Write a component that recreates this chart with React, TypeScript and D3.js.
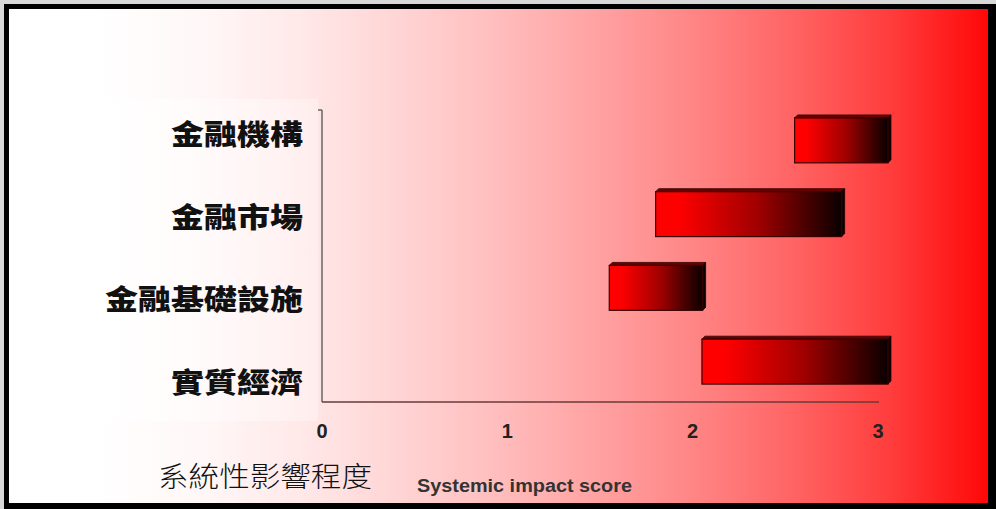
import React from "react";
import * as d3 from "d3";

// Sectors and their systemic-impact score ranges
const categories = ["金融機構", "金融市場", "金融基礎設施", "實質經濟"];
const lowScores = [2.55, 1.8, 1.55, 2.05];
const highScores = [3.07, 2.82, 2.07, 3.07];
const tickValues = [0, 1, 2, 3];
const titleZh = "系統性影響程度";
const titleEn = "Systemic impact score";

const W = 996;
const H = 509;

const bgStops: [number, string][] = [
  [0.0, "#ffffff"],
  [0.09, "#ffffff"],
  [0.2, "#fff7f7"],
  [0.3, "#ffe8e8"],
  [0.4, "#ffd4d4"],
  [0.5, "#ffbdbd"],
  [0.6, "#ffa2a2"],
  [0.7, "#ff8585"],
  [0.8, "#ff6464"],
  [0.9, "#ff3d3d"],
  [1.0, "#ff0808"],
];

export default function App() {
  const x = d3.scaleLinear().domain([0, 3]).range([322, 878]);
  const yBar = d3
    .scaleBand<string>()
    .domain(categories)
    .range([102, 397])
    .paddingInner(0.35)
    .paddingOuter(0.175);
  const yLabel = d3.scaleBand<string>().domain(categories).range([93.5, 424.5]);

  const depth = 3;

  return (
    <svg
      width={W}
      height={H}
      style={{ position: "absolute", left: 0, top: 0, display: "block" }}
    >
      <defs>
        <linearGradient id="bg" x1="9" x2="988" y1="0" y2="0" gradientUnits="userSpaceOnUse">
          {bgStops.map(([o, c]) => (
            <stop key={o} offset={o} stopColor={c} />
          ))}
        </linearGradient>
        <linearGradient id="barFill" x1="0" x2="1" y1="0" y2="0">
          <stop offset="0" stopColor="#ff0000" />
          <stop offset="0.12" stopColor="#ff0000" />
          <stop offset="0.55" stopColor="#a00000" />
          <stop offset="1" stopColor="#0a0000" />
        </linearGradient>
        <linearGradient id="panel" x1="0" x2="1" y1="0" y2="0">
          <stop offset="0" stopColor="#ffffff" stopOpacity="0.6" />
          <stop offset="1" stopColor="#ffffff" stopOpacity="0.3" />
        </linearGradient>
      </defs>

      {/* frame */}
      <rect x={0} y={0} width={W} height={H} fill="#d8d8d8" />
      <rect x={4} y={4} width={W - 4} height={H - 4} fill="#000" />
      <rect x={9} y={9} width={979} height={494} fill="url(#bg)" />

      {/* label panel */}
      <rect x={42} y={99} width={276} height={322} fill="url(#panel)" />

      {/* axes */}
      <line x1={x(0)} x2={x(0)} y1={110} y2={402} stroke="#666" strokeWidth={1.5} />
      <line x1={x(0) - 4} x2={x(0)} y1={110} y2={110} stroke="#666" strokeWidth={1.5} />
      <line x1={x(0)} x2={x(3) + 1} y1={402} y2={402} stroke="#6a3a3a" strokeWidth={1.5} />

      {/* bars */}
      {categories.map((c, i) => {
        const x0 = x(lowScores[i]);
        const x1 = x(highScores[i]);
        const y0 = yBar(c) as number;
        const h = yBar.bandwidth();
        const y1 = y0 + h;
        return (
          <g key={c}>
            <polygon
              points={`${x0},${y0 + depth} ${x0 + depth},${y0} ${x1},${y0} ${x1 - depth},${y0 + depth}`}
              fill="#6a0000"
              stroke="#300000"
              strokeWidth={0.8}
            />
            <polygon
              points={`${x1 - depth},${y0 + depth} ${x1},${y0} ${x1},${y1 - depth} ${x1 - depth},${y1}`}
              fill="#0a0000"
              stroke="#200000"
              strokeWidth={0.8}
            />
            <rect
              x={x0}
              y={y0 + depth}
              width={x1 - x0 - depth}
              height={h - depth}
              fill="url(#barFill)"
              stroke="#3a0000"
              strokeWidth={1.2}
            />
          </g>
        );
      })}

      {/* category labels */}
      {categories.map((c) => (
        <text
          key={c}
          x={303}
          y={(yLabel(c) as number) + yLabel.bandwidth() / 2 + 10}
          textAnchor="end"
          fontFamily="'Noto Sans CJK TC', 'Noto Sans CJK SC', sans-serif"
          fontWeight={900}
          fontSize={28}
          fill="#111"
          textLength={c.length * 33}
          lengthAdjust="spacingAndGlyphs"
        >
          {c}
        </text>
      ))}

      {/* tick labels */}
      {tickValues.map((t) => (
        <text
          key={t}
          x={x(t)}
          y={438}
          textAnchor="middle"
          fontFamily="'Liberation Sans', Arial, sans-serif"
          fontWeight="bold"
          fontSize={20}
          fill="#222"
        >
          {d3.format("d")(t)}
        </text>
      ))}

      {/* axis titles */}
      <text
        x={158}
        y={487}
        fontFamily="'Noto Sans CJK TC', 'Noto Sans CJK SC', serif"
        fontWeight={300}
        fontSize={28}
        fill="#111"
        textLength={214}
        lengthAdjust="spacingAndGlyphs"
      >
        {titleZh}
      </text>
      <text
        x={417}
        y={492}
        fontFamily="'Liberation Sans', Arial, sans-serif"
        fontWeight="bold"
        fontSize={18}
        fill="#333"
        textLength={215}
        lengthAdjust="spacingAndGlyphs"
      >
        {titleEn}
      </text>
    </svg>
  );
}
